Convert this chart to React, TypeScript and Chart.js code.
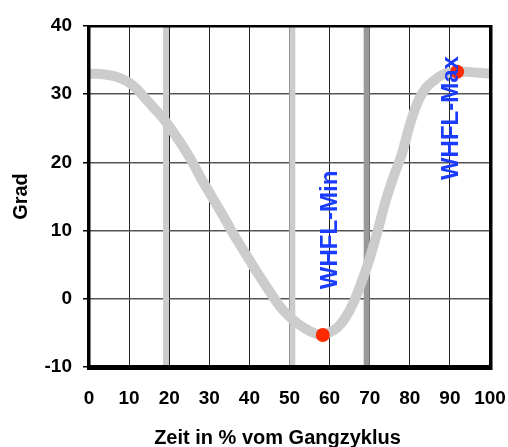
import React, { useEffect, useRef } from 'react';
import { Chart, registerables } from 'chart.js';

Chart.register(...registerables);

// ---- data ----
const curveX = [0, 2, 4, 6, 8, 10, 12, 14, 16, 18, 20, 22, 24, 26, 28, 30, 32, 34, 36, 38, 40, 42, 44, 46, 48, 50, 52, 54, 56, 58, 60, 62, 64, 66, 68, 70, 72, 74, 76, 78, 80, 82, 84, 86, 88, 90, 92, 94, 96, 98, 100];
const curveY = [33.0, 33.0, 32.9, 32.7, 32.3, 31.7, 30.7, 29.4, 28.1, 26.8, 25.3, 23.6, 21.8, 19.8, 17.6, 15.6, 13.6, 11.6, 9.5, 7.6, 5.7, 3.8, 2.0, 0.2, -1.4, -2.6, -3.6, -4.4, -5.0, -5.3, -4.9, -4.2, -2.7, -0.5, 2.5, 5.9, 10.0, 14.4, 18.0, 21.2, 25.5, 28.9, 30.9, 32.0, 32.8, 33.2, 33.3, 33.3, 33.2, 33.1, 33.0];

const extremaNames = ['WHFL-Min', 'WHFL-Max'];
const extremaX = [58.3, 91.8];
const extremaY = [-5.3, 33.3];

const labelX = [60.2, 90.3];
const labelY = [10.1, 26.5];

const lightMarkersX = [19.2, 50.7];
const darkMarkerX = [69.25];

const yRange = [-10, 40];
const xRange = [0, 100];

const xTitle = 'Zeit in % vom Gangzyklus';
const yTitle = 'Grad';

const FONT = '"Liberation Sans", Arial, Helvetica, sans-serif';

const overlay = {
  id: 'overlay',
  afterDatasetsDraw(chart: any) {
    const { ctx, scales } = chart;
    const x = scales.x;
    const y = scales.y;
    ctx.save();
    ctx.fillStyle = '#1a3cff';
    ctx.font = `bold 24px ${FONT}`;
    ctx.textAlign = 'center';
    ctx.textBaseline = 'middle';
    extremaNames.forEach((t, i) => {
      ctx.save();
      ctx.translate(x.getPixelForValue(labelX[i]), y.getPixelForValue(labelY[i]));
      ctx.rotate(-Math.PI / 2);
      ctx.fillText(t, 0, 0);
      ctx.restore();
    });
    ctx.restore();
  },
  afterDraw(chart: any) {
    const { ctx, chartArea } = chart;
    const { left, right, top, bottom } = chartArea;
    ctx.save();
    ctx.fillStyle = '#000';
    ctx.fillRect(left - 2, top - 1, right - left + 4, 2.5);
    ctx.fillRect(left - 2, top - 1, 3.5, bottom - top + 4);
    ctx.fillRect(right - 1, top - 1, 3.5, bottom - top + 4);
    ctx.fillRect(left - 2, bottom - 2, right - left + 4, 5);
    ctx.font = `bold 20px ${FONT}`;
    ctx.textAlign = 'center';
    ctx.textBaseline = 'alphabetic';
    ctx.fillText(xTitle, 277.5, 444);
    ctx.restore();
  },
};

export default function App() {
  const ref = useRef<HTMLCanvasElement>(null);
  useEffect(() => {
    const curve = curveX.map((v, i) => ({ x: v, y: curveY[i] }));
    const points = extremaX.map((v, i) => ({ x: v, y: extremaY[i] }));
    const vline = (xv: number) => [
      { x: xv, y: yRange[0] },
      { x: xv, y: yRange[1] },
    ];
    const chart = new Chart(ref.current as HTMLCanvasElement, {
      type: 'line',
      data: {
        datasets: [
          {
            label: 'Extrema',
            data: points,
            showLine: false,
            pointRadius: 7,
            pointBackgroundColor: '#ff2a00',
            pointBorderColor: '#ff2a00',
            pointBorderWidth: 0,
            order: 0,
          },
          {
            label: 'Winkel',
            data: curve,
            borderColor: '#cccccc',
            borderWidth: 10,
            pointRadius: 0,
            cubicInterpolationMode: 'monotone',
            order: 1,
          },
          ...lightMarkersX.map((xv) => ({
            label: 'marker',
            data: vline(xv),
            borderColor: '#cccccc',
            borderWidth: 6,
            pointRadius: 0,
            order: 2,
          })),
          ...darkMarkerX.map((xv) => ({
            label: 'marker2',
            data: vline(xv),
            borderColor: '#999999',
            borderWidth: 6,
            pointRadius: 0,
            order: 2,
          })),
        ] as any,
      },
      options: {
        animation: false,
        responsive: false,
        devicePixelRatio: 1,
        parsing: true,
        layout: { padding: { left: 0, right: 18, top: 26, bottom: 0 } },
        plugins: {
          legend: { display: false },
          tooltip: { enabled: false },
        },
        scales: {
          x: {
            type: 'linear',
            min: xRange[0],
            max: xRange[1],
            afterFit: (s: any) => {
              s.height = 80;
              s.paddingLeft = 0;
              s.paddingRight = 0;
            },
            ticks: {
              stepSize: 10,
              padding: 20,
              color: '#000',
              font: { family: FONT, size: 19, weight: 'bold' },
            },
            grid: { color: '#222', lineWidth: 1, drawTicks: false },
            border: { display: false },
          },
          y: {
            type: 'linear',
            min: yRange[0],
            max: yRange[1],
            afterFit: (s: any) => {
              s.width = 89;
              s.paddingTop = 0;
              s.paddingBottom = 0;
            },
            ticks: {
              stepSize: 10,
              padding: 11,
              color: '#000',
              font: { family: FONT, size: 19, weight: 'bold' },
            },
            grid: { color: '#555', lineWidth: 1.5, tickLength: 6, tickColor: '#000' },
            border: { display: false },
            title: {
              display: true,
              text: yTitle,
              color: '#000',
              font: { family: FONT, size: 20, weight: 'bold' },
              padding: { top: 9, bottom: 0 },
            },
          },
        },
      } as any,
      plugins: [overlay],
    });
    return () => chart.destroy();
  }, []);
  return (
    <div style={{ position: 'fixed', left: 0, top: 0, width: 508, height: 447, background: '#fff' }}>
      <canvas ref={ref} width={508} height={447} style={{ width: 508, height: 447, display: 'block' }} />
    </div>
  );
}
